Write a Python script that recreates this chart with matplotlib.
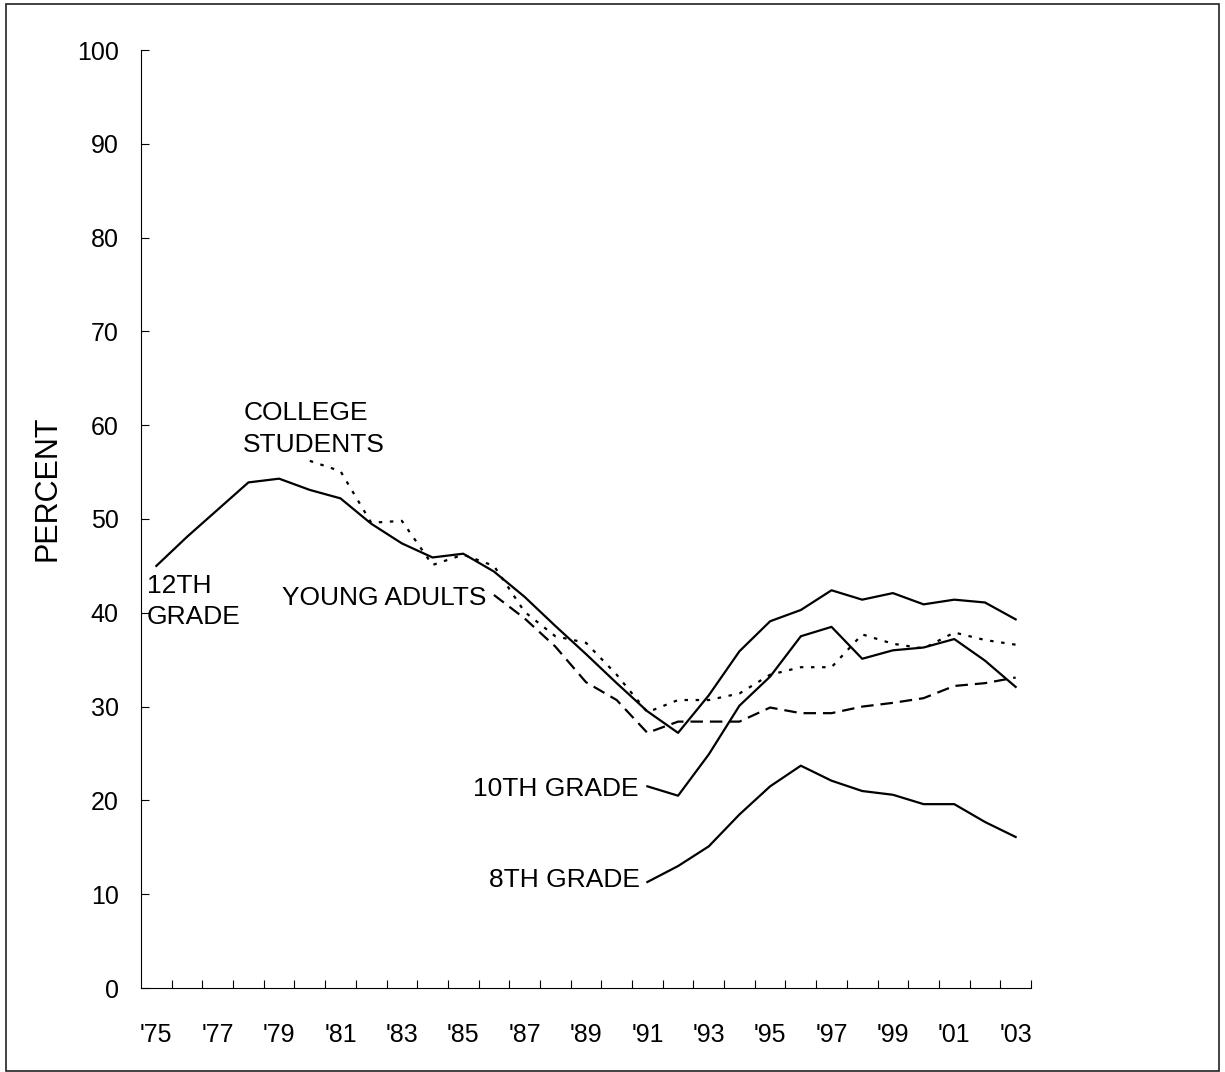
# consumo anual - 8vo, 10mo, 12vo grado, universitarios y adultos jovenes
import numpy as np
import matplotlib.pyplot as plt
from matplotlib.patches import Rectangle

plt.rcParams['font.family'] = ['Liberation Sans', 'DejaVu Sans']
plt.rcParams['lines.scale_dashes'] = False

# ====== Datos ======
years_12 = list(range(1975, 2004))
grade12 = [45.0, 48.1, 51.0, 53.9, 54.3, 53.1, 52.2, 49.5, 47.4, 45.9,
           46.3, 44.4, 41.7, 38.6, 35.6, 32.5, 29.5, 27.2, 31.2, 35.9,
           39.1, 40.3, 42.4, 41.4, 42.1, 40.9, 41.4, 41.1, 39.3]

years_col = list(range(1980, 2004))
college = [56.2, 55.1, 49.6, 49.8, 45.1, 46.2, 45.0, 40.1, 37.5, 36.8,
           33.4, 29.4, 30.7, 30.7, 31.4, 33.4, 34.2, 34.2, 37.7, 36.7,
           36.2, 37.9, 37.1, 36.6]

years_ya = list(range(1986, 2004))
young_adults = [41.9, 39.4, 36.4, 32.6, 30.7, 27.2, 28.4, 28.4, 28.4, 29.9,
                29.3, 29.3, 30.0, 30.4, 30.9, 32.2, 32.5, 33.1]

years_hs = list(range(1991, 2004))
grade10 = [21.5, 20.5, 24.9, 30.1, 33.2, 37.5, 38.5, 35.1, 36.0, 36.3,
           37.2, 34.9, 32.1]
grade8 = [11.3, 13.0, 15.1, 18.5, 21.5, 23.7, 22.1, 21.0, 20.6, 19.6,
          19.6, 17.7, 16.1]

tick_years = list(range(1975, 2004, 2))
tick_labels = ["'%02d" % (y % 100) for y in tick_years]

# ====== Figura ======
W, H = 1225, 1072
fig = plt.figure(figsize=(W / 100, H / 100), dpi=100)
ax = fig.add_axes([141 / W, 1 - 988 / H, 890 / W, 938 / H])

lw = 1.6
ax.plot(years_12, grade12, color="black", lw=lw)
ax.plot(years_hs, grade10, color="black", lw=lw)
ax.plot(years_hs, grade8, color="black", lw=lw)
ax.plot(years_col, college, color="black", lw=lw, linestyle=(0, (2.5, 5.5)))
ax.plot(years_ya, young_adults, color="black", lw=lw, linestyle=(0, (9, 5)))

ax.set_xlim(1974.5, 2003.5)
ax.set_ylim(0, 100)
ax.set_yticks(range(0, 101, 10))
ax.tick_params(axis="y", direction="in", length=5.5, width=0.8, pad=16, labelsize=18)
ax.set_xticks(tick_years)
ax.set_xticklabels(tick_labels)
ax.set_xticks(np.arange(1975.5, 2004, 1), minor=True)
ax.tick_params(axis="x", which="major", length=0, pad=25, labelsize=18)
ax.tick_params(axis="x", which="minor", direction="in", length=5.5, width=0.8)
for s in ["top", "right"]:
    ax.spines[s].set_visible(False)
for s in ["left", "bottom"]:
    ax.spines[s].set_linewidth(0.8)

# etiquetas de series
fs = 19
ax.text(1974.69, 41.2, "12TH\nGRADE", ha="left", va="center", fontsize=fs, linespacing=1.4)
ax.text(1977.83, 59.6, "COLLEGE\nSTUDENTS", ha="left", va="center", fontsize=fs, linespacing=1.4)
ax.text(1985.76, 41.55, "YOUNG ADULTS", ha="right", va="center", fontsize=fs)
ax.text(1990.72, 21.2, "10TH GRADE", ha="right", va="center", fontsize=fs)
ax.text(1990.76, 11.5, "8TH GRADE", ha="right", va="center", fontsize=fs)

fig.text(48 / W, 1 - 488 / H, "PERCENT", rotation=90, ha="center", va="center", fontsize=22)

# marco exterior
fig.patches.append(Rectangle((6 / W, 1 - 1071 / H), (1219 - 6) / W, (1071 - 4) / H,
                             transform=fig.transFigure, fill=False, lw=1.2, ec="#222222"))

plt.savefig("out.png", dpi=100)
